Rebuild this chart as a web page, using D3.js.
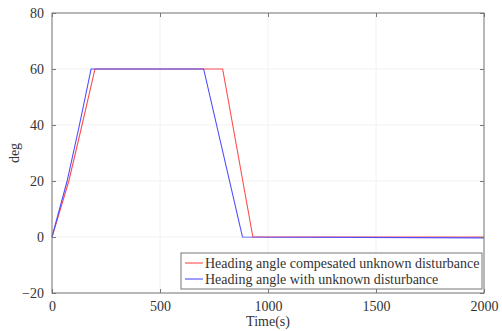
<!DOCTYPE html>
<html>
<head>
<meta charset="utf-8">
<script src="https://cdn.jsdelivr.net/npm/d3@7"></script>
<style>
  body { margin: 0; background: #fff; }
  svg text { font-family: "Liberation Serif", "DejaVu Serif", serif; fill: #333; }
</style>
</head>
<body>
<svg id="chart" width="502" height="331"></svg>
<script>
var xTicks = [0, 500, 1000, 1500, 2000];
var yTicks = [-20, 0, 20, 40, 60, 80];
var seriesNames = ["Heading angle compesated unknown disturbance", "Heading angle with unknown disturbance"];
var seriesColors = ["#ff4d4d", "#4d4dff"];
// time (s), heading (deg)
var compensatedT = [0, 78, 139, 199, 790, 930, 2000];
var compensatedV = [0, 20, 40, 60, 60, 0, 0];
var disturbedT = [0, 70, 127, 181, 702, 882, 2000];
var disturbedV = [0, 20, 40, 60, 60, 0, -0.3];

var svg = d3.select("#chart");
const margins = {top: 13, right: 18, bottom: 38, left: 52};
var W = 502, H = 331;

var x = d3.scaleLinear().domain([0, 2000]).range([margins.left, W - margins.right]);
var y = d3.scaleLinear().domain([-20, 80]).range([H - margins.bottom, margins.top]);

// faint grid
var grid = svg.append("g");
grid.selectAll("line.gy").data(yTicks).enter().append("line")
    .attr("x1", x(0)).attr("x2", x(2000))
    .attr("y1", d => y(d)).attr("y2", d => y(d))
    .attr("stroke", "#f2f2f2");
grid.selectAll("line.gx").data(xTicks).enter().append("line")
    .attr("y1", y(-20)).attr("y2", y(80))
    .attr("x1", d => x(d)).attr("x2", d => x(d))
    .attr("stroke", "#f2f2f2");

var line = d3.line().x(d => x(d[0])).y(d => y(d[1]));
var series = [
    compensatedT.map((t, i) => [t, compensatedV[i]]),
    disturbedT.map((t, i) => [t, disturbedV[i]])
];
svg.append("g").selectAll("path").data(series).enter().append("path")
    .attr("fill", "none")
    .attr("stroke", (d, i) => seriesColors[i])
    .attr("stroke-width", 1.1)
    .attr("d", line);

// box
svg.append("rect")
    .attr("x", x(0)).attr("y", y(80))
    .attr("width", x(2000) - x(0)).attr("height", y(-20) - y(80))
    .attr("fill", "none").attr("stroke", "#777").attr("stroke-width", 1);

var xAxis = svg.append("g").attr("transform", "translate(0," + y(-20) + ")")
    .call(d3.axisBottom(x).tickValues(xTicks).tickSize(-4).tickPadding(8).tickFormat(d3.format("d")));
var xAxisTop = svg.append("g").attr("transform", "translate(0," + y(80) + ")")
    .call(d3.axisTop(x).tickValues(xTicks).tickSize(-4).tickFormat(""));
var yAxis = svg.append("g").attr("transform", "translate(" + x(0) + ",0)")
    .call(d3.axisLeft(y).tickValues(yTicks).tickSize(-4).tickPadding(8));
var yAxisRight = svg.append("g").attr("transform", "translate(" + x(2000) + ",0)")
    .call(d3.axisRight(y).tickValues(yTicks).tickSize(-4).tickFormat(""));
[xAxis, xAxisTop, yAxis, yAxisRight].forEach(function(a) {
    a.attr("font-family", null).attr("font-size", null);
    a.select(".domain").remove();
    a.selectAll("line").attr("stroke", "#777");
    a.selectAll("text").attr("fill", "#333")
        .style("font-family", "'Liberation Serif', serif").style("font-size", "14px");
});

svg.append("text")
    .attr("x", (x(0) + x(2000)) / 2).attr("y", 326)
    .attr("text-anchor", "middle").style("font-size", "14px")
    .text("Time(s)");
svg.append("text")
    .attr("transform", "translate(19," + y(30) + ") rotate(-90)")
    .attr("text-anchor", "middle").style("font-size", "14px")
    .text("deg");

// legend
var lg = svg.append("g").attr("transform", "translate(181,253)");
lg.append("rect").attr("width", 301).attr("height", 36)
    .attr("fill", "#fff").attr("stroke", "#777");
var item = lg.selectAll("g.item").data(seriesNames).enter().append("g")
    .attr("transform", (d, i) => "translate(0," + (10 + i * 16) + ")");
item.append("line").attr("x1", 4).attr("x2", 22)
    .attr("stroke", (d, i) => seriesColors[i]).attr("stroke-width", 1.1);
item.append("text").attr("x", 24).attr("dy", "0.35em")
    .style("font-size", "14px").text(d => d);
</script>
</body>
</html>
